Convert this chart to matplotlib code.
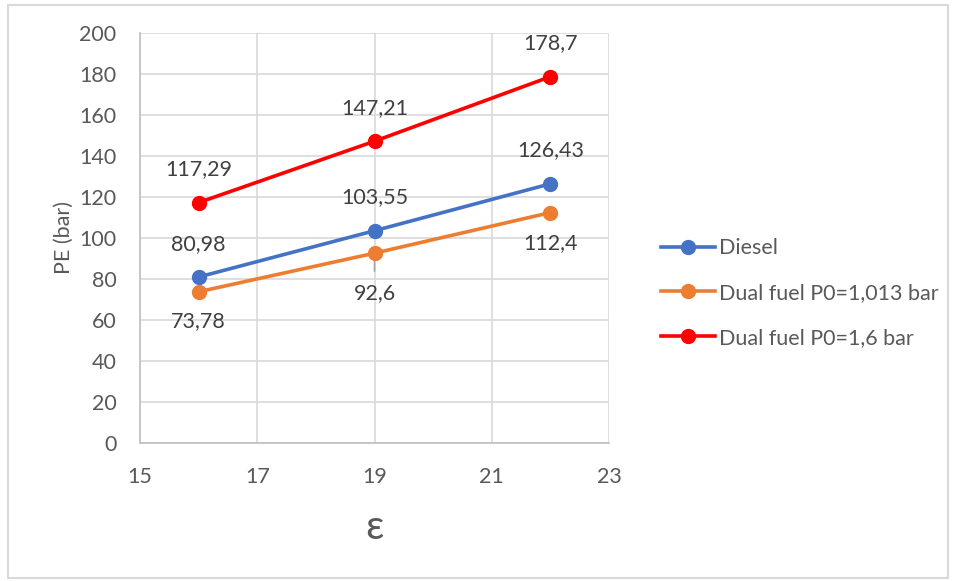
import matplotlib.pyplot as plt
from matplotlib.patches import Rectangle

plt.rcParams['font.family'] = ['Lato', 'DejaVu Sans']

# compression ratio values and mean effective pressure per configuration
eps = [16, 19, 22]
diesel = [80.98, 103.55, 126.43]
dual_1013 = [73.78, 92.6, 112.4]
dual_16 = [117.29, 147.21, 178.7]

series_names = ["Diesel", "Dual fuel P0=1,013 bar", "Dual fuel P0=1,6 bar"]
colors = ["#4472C4", "#ED7D31", "#FF0000"]
x_ticks = [15, 17, 19, 21, 23]
y_ticks = list(range(0, 201, 20))

W, H = 956, 581
fig = plt.figure(figsize=(W / 100, H / 100), dpi=100)
fig.patch.set_facecolor("white")

# outer chart border
fig.add_artist(Rectangle((8 / W, 1 - 578 / H), 940 / W, 573 / H,
                         transform=fig.transFigure, fill=False,
                         edgecolor="#d9d9d9", linewidth=1.5))

left, right, top, bottom = 140, 609, 33, 443
ax = fig.add_axes([left / W, 1 - bottom / H, (right - left) / W, (bottom - top) / H])

txt = "#404040"
tick_col = "#595959"
fs = 15.5

ax.set_xlim(15, 23)
ax.set_ylim(0, 200)
ax.set_xticks(x_ticks)
ax.set_yticks(y_ticks)
ax.grid(True, color="#d9d9d9", linewidth=1.2)
ax.set_axisbelow(True)
for s in ["top", "right"]:
    ax.spines[s].set_visible(False)
for s in ["left", "bottom"]:
    ax.spines[s].set_color("#bfbfbf")
    ax.spines[s].set_linewidth(1.2)
ax.tick_params(length=0, labelsize=fs, colors=tick_col)
ax.tick_params(axis="x", pad=17)
ax.tick_params(axis="y", pad=17)

lines = []
for ys, c, name in zip([diesel, dual_1013, dual_16], colors, series_names):
    ln, = ax.plot(eps, ys, color=c, linewidth=2.6, marker="o", markersize=10,
                  label=name, zorder=3)
    lines.append(ln)

def fmt(v):
    return f"{v:g}".replace(".", ",")

# data labels: offsets in points (positive = above)
offsets = {
    0: [24, 24, 24],
    1: [-21, -29, -22],
    2: [24, 24, 24],
}
for i, ys in enumerate([diesel, dual_1013, dual_16]):
    for j, (xv, yv) in enumerate(zip(eps, ys)):
        ax.annotate(fmt(yv), (xv, yv), xytext=(0, offsets[i][j]),
                    textcoords="offset points", ha="center", va="center",
                    fontsize=fs, color=txt, zorder=4)

# leader line for the shifted label
ax.annotate("", xy=(eps[1], dual_1013[1]), xytext=(0, -13),
            textcoords="offset points",
            arrowprops=dict(arrowstyle="-", color="#a6a6a6", lw=1.2,
                            shrinkA=0, shrinkB=0), zorder=2)

ax.set_ylabel("PE (bar)", fontsize=fs, color=tick_col, labelpad=4)
ax.set_xlabel("ε", fontsize=29, color=tick_col, labelpad=16)

fig.legend(handles=lines, loc="center left",
           bbox_to_anchor=(661 / W, 1 - 293 / H), frameon=False,
           borderpad=0, borderaxespad=0,
           fontsize=fs, labelcolor=tick_col, handlelength=2.5,
           handletextpad=0.2, labelspacing=1.15)

fig.savefig("out.png", dpi=100)
